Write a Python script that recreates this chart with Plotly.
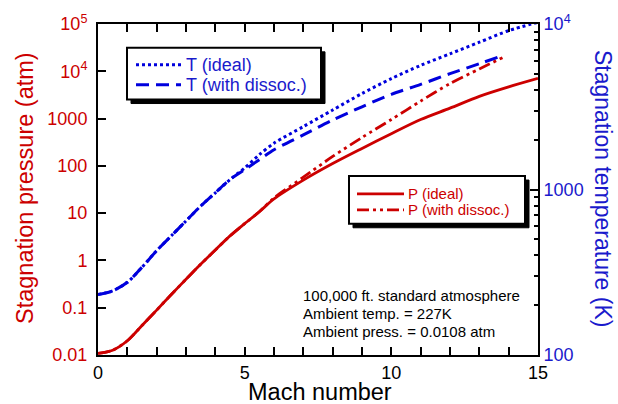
import plotly.graph_objects as go

# Mach numbers and stagnation values, 100,000 ft standard atmosphere
mach = [0, 0.5, 1, 1.5, 2, 2.5, 3, 3.5, 4, 4.5, 5, 5.5, 6, 7, 8, 9, 10, 11, 12, 13, 14, 15]
p_ideal = [0.0108, 0.0126, 0.020, 0.042, 0.089, 0.19, 0.40, 0.83, 1.66, 3.3, 6.0, 10.7,
           20, 50, 112, 234, 480, 955, 1660, 2950, 4680, 7080]
t_ideal = [232, 244, 275, 339, 427, 525, 646, 794, 955, 1148, 1349, 1622,
           1905, 2399, 3020, 3802, 4677, 5623, 6607, 7762, 9120, 10230]

mach_p_dissoc = [0, 0.5, 1, 1.5, 2, 2.5, 3, 3.5, 4, 4.5, 5, 5.5, 6, 7, 8, 9, 10, 11, 12, 13, 13.8]
p_dissoc = [0.0108, 0.0126, 0.020, 0.042, 0.089, 0.19, 0.40, 0.83, 1.66, 3.3, 6.0, 10.7,
            21, 57.5, 158, 398, 955, 2340, 5500, 11200, 19500]

mach_t_dissoc = [0, 0.5, 1, 1.5, 2, 2.5, 3, 3.5, 4, 4.5, 5, 5.5, 6, 7, 8, 9, 10, 11, 12, 13, 13.65]
t_dissoc = [232, 244, 275, 339, 427, 525, 646, 794, 955, 1148, 1318, 1514,
            1738, 2138, 2630, 3162, 3758, 4315, 5012, 5754, 6310]

p_ticks = [0.01, 0.1, 1, 10, 100, 1000, 1e4, 1e5]
p_ticktext = ["0.01", "0.1", "1", "10", "100", "1000", "10<sup>4</sup>", "10<sup>5</sup>"]
t_ticks = [100, 1000, 10000]
t_ticktext = ["100", "1000", "10<sup>4</sup>"]
t_minor = [200, 300, 400, 500, 600, 700, 800, 900, 2000, 3000, 4000, 5000, 6000, 7000, 8000, 9000]
mach_ticks = [0, 5, 10, 15]

series_names = ["T (ideal)", "T (with dissoc.)", "P (ideal)", "P (with dissoc.)"]
notes = ["100,000 ft. standard atmosphere", "Ambient temp. = 227K", "Ambient press. = 0.0108 atm"]

RED = "#cc0000"
BLUE = "#0000dd"
BLUE_TXT = "#1a1acc"
FONT = "Liberation Sans, Arial, Helvetica, sans-serif"

DOT = "3px,3px"
DASH = "13px,7px"
DASH_DOT_DOT = "12px,4px,3px,4px,3px,4px"

W, H = 618, 404
L, R, T, B = 98, 80, 22, 49
PW, PH = W - L - R, H - T - B


def px_x(x):
    return (x - L) / PW


def px_y(y):
    return 1 - (y - T) / PH


styles = [
    dict(color=BLUE, width=3, dash=DOT),
    dict(color=BLUE, width=3, dash=DASH),
    dict(color=RED, width=2.8, dash="solid"),
    dict(color=RED, width=2.8, dash=DASH_DOT_DOT),
]
series = [
    (mach, t_ideal, "y2"),
    (mach_t_dissoc, t_dissoc, "y2"),
    (mach, p_ideal, "y"),
    (mach_p_dissoc, p_dissoc, "y"),
]

fig = go.Figure()
for (xs, ys, ax), name, st in zip(series, series_names, styles):
    fig.add_trace(go.Scatter(x=xs, y=ys, yaxis=ax, mode="lines", name=name,
                             line=dict(shape="spline", smoothing=0.8, **st),
                             showlegend=False))

axis_common = dict(showline=True, linecolor="black", linewidth=2, showgrid=False,
                   zeroline=False, ticks="inside", ticklen=8, tickwidth=2, tickcolor="black")

fig.update_layout(
    width=W, height=H,
    margin=dict(l=L, r=R, t=T, b=B, pad=0),
    paper_bgcolor="white", plot_bgcolor="white",
    font=dict(family=FONT),
    xaxis=dict(range=[0, 15], tickvals=mach_ticks, mirror="allticks",
               tickfont=dict(size=18, color="black"),
               minor=dict(tickvals=list(range(16)), ticks="inside", ticklen=4,
                          tickwidth=2, tickcolor="black"),
               **axis_common),
    yaxis=dict(type="log", range=[-2, 5], tickvals=p_ticks, ticktext=p_ticktext,
               tickfont=dict(size=18, color=RED), ticklabelstandoff=5, **axis_common),
    yaxis2=dict(type="log", range=[2, 4], overlaying="y", side="right",
                tickvals=t_ticks, ticktext=t_ticktext,
                tickfont=dict(size=18, color=BLUE_TXT),
                minor=dict(tickvals=t_minor, ticks="inside", ticklen=4,
                           tickwidth=2, tickcolor="black"),
                **axis_common),
    showlegend=False,
)


def legend_box(x0, y0, x1, y1, rows, text_x, sample_x0, sample_x1, size, color):
    """Framed key with a drop shadow; rows = [(y, label, line style), ...]."""
    fig.add_shape(type="rect", xref="paper", yref="paper",
                  x0=px_x(x0 + 4), x1=px_x(x1 + 4), y0=px_y(y1 + 4), y1=px_y(y0 + 4),
                  fillcolor="black", line=dict(color="black", width=1), layer="above")
    fig.add_shape(type="rect", xref="paper", yref="paper",
                  x0=px_x(x0), x1=px_x(x1), y0=px_y(y1), y1=px_y(y0),
                  fillcolor="white", line=dict(color="black", width=2), layer="above")
    for y, label, st in rows:
        fig.add_shape(type="line", xref="paper", yref="paper",
                      x0=px_x(sample_x0), x1=px_x(sample_x1), y0=px_y(y), y1=px_y(y),
                      line=dict(color=st["color"], width=st["width"], dash=st["dash"]),
                      layer="above")
        fig.add_annotation(text=label, xref="paper", yref="paper",
                           x=px_x(text_x), y=px_y(y), xanchor="left", yanchor="middle",
                           showarrow=False, font=dict(size=size, color=color))


legend_box(127, 46, 321, 98,
           [(63, series_names[0], styles[0]), (83, series_names[1], styles[1])],
           text_x=184, sample_x0=136, sample_x1=181, size=18, color=BLUE_TXT)
legend_box(349, 175, 525, 223,
           [(193, series_names[2], styles[2]), (209, series_names[3], styles[3])],
           text_x=406, sample_x0=357, sample_x1=404, size=15, color=RED)

# axis titles
fig.add_annotation(text="Stagnation pressure (atm)", xref="paper", yref="paper",
                   x=px_x(25), y=px_y(187), xanchor="center", yanchor="middle",
                   textangle=-90, showarrow=False, font=dict(size=23.5, color=RED))
fig.add_annotation(text="Stagnation temperature (K)", xref="paper", yref="paper",
                   x=px_x(603), y=px_y(187), xanchor="center", yanchor="middle",
                   textangle=90, showarrow=False, font=dict(size=23, color=BLUE_TXT))
fig.add_annotation(text="Mach number", xref="paper", yref="paper",
                   x=px_x(320), y=px_y(392), xanchor="center", yanchor="middle",
                   showarrow=False, font=dict(size=23.5, color="black"))

# atmosphere notes
for i, line in enumerate(notes):
    fig.add_annotation(text=line, xref="paper", yref="paper",
                       x=px_x(301), y=px_y(295 + 18 * i), xanchor="left", yanchor="middle",
                       showarrow=False, font=dict(size=15, color="black"))

fig.write_html("out.html")
